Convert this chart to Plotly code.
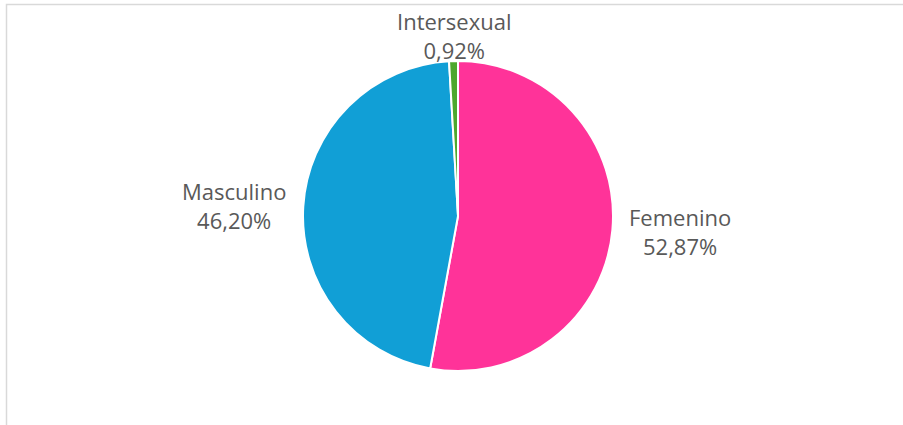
import math
import plotly.graph_objects as go

labels = ["Femenino", "Masculino", "Intersexual"]
values = [52.87, 46.20, 0.92]
colors = ["#FF3399", "#119FD6", "#4EA72E"]

texts = [f"{v:.2f}".replace(".", ",") + "%" for v in values]

W, H = 903, 425
cx, cy, r = 458, 216, 155
side_gap = 15
top_gap = -6

fig = go.Figure(go.Pie(
    labels=labels,
    values=values,
    text=texts,
    textinfo="none",
    sort=False,
    direction="clockwise",
    rotation=0,
    marker=dict(colors=colors, line=dict(color="white", width=2)),
    showlegend=False,
    hovertemplate="%{label}: %{text}<extra></extra>",
    domain=dict(x=[(cx - r) / W, (cx + r) / W], y=[(H - cy - r) / H, (H - cy + r) / H]),
))

# data labels placed along each slice's bisector, outside the pie
total = sum(values)
cum = 0.0
annotations = []
for lab, v, t in zip(labels, values, texts):
    mid = (cum + v / 2) / total * 2 * math.pi
    cum += v
    s, c = math.sin(mid), math.cos(mid)
    if abs(s) > 0.5:
        d = r + side_gap
        xa, ya = ("left" if s > 0 else "right"), "middle"
    else:
        d = r + top_gap
        xa, ya = "center", ("bottom" if c > 0 else "top")
    px = cx + d * s
    py = cy - d * c
    annotations.append(dict(
        x=px / W, y=1 - py / H, xref="paper", yref="paper",
        text=f"{lab}<br>{t}", showarrow=False, xanchor=xa, yanchor=ya,
        align="center",
        font=dict(family="Open Sans", size=22, color="#595959"),
    ))

fig.update_layout(
    width=W, height=H,
    margin=dict(l=0, r=0, t=0, b=0),
    paper_bgcolor="white",
    plot_bgcolor="white",
    annotations=annotations,
    shapes=[dict(type="rect", xref="paper", yref="paper",
                 x0=6.5 / W, x1=1.2, y0=-0.2, y1=1 - 4.5 / H,
                 line=dict(color="#D9D9D9", width=1.5), fillcolor="rgba(0,0,0,0)", layer="below")],
)

fig.write_html(
    "out.html",
    config={"displayModeBar": False},
    post_script="document.body.style.margin='0';document.body.style.overflow='hidden';",
)
